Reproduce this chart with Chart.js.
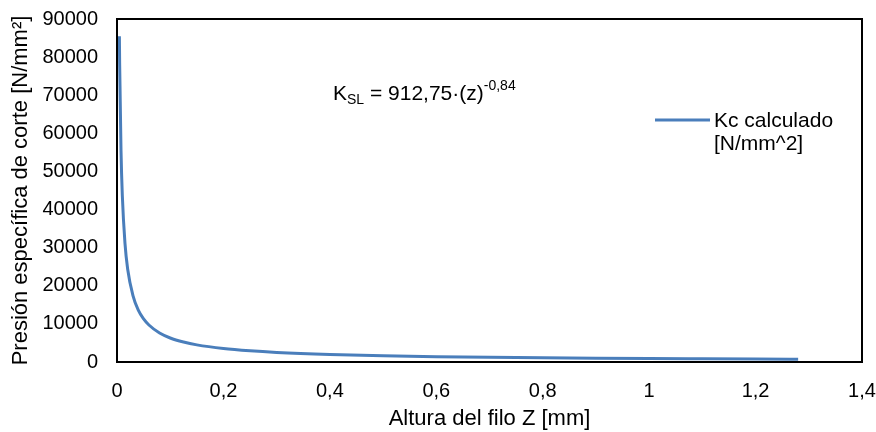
<!DOCTYPE html>
<html>
<head>
<meta charset="utf-8">
<script src="https://cdn.jsdelivr.net/npm/chart.js@4"></script>
<style>
  html, body { margin: 0; padding: 0; background: #fff; }
  #wrap { width: 876px; height: 432px; position: relative; }
</style>
</head>
<body>
<div id="wrap"><canvas id="myChart"></canvas></div>
<script>
// values
const alturaZ = [0.0045, 0.005, 0.0075, 0.01, 0.015, 0.02, 0.03, 0.04, 0.05, 0.06, 0.08, 0.1,
  0.125, 0.15, 0.2, 0.25, 0.3, 0.4, 0.5, 0.6, 0.7, 0.8, 0.9, 1.0, 1.1, 1.2, 1.28];
const kcCalculado = [85500, 78100, 55600, 43700, 31100, 24400, 17400, 13600, 11300, 9700, 7600, 6300,
  5240, 4490, 3530, 2930, 2510, 1970, 1630, 1400, 1230, 1100, 996, 913, 843, 783, 742];
const xTicks = [0, 0.2, 0.4, 0.6, 0.8, 1, 1.2, 1.4];
const yTicks = [0, 10000, 20000, 30000, 40000, 50000, 60000, 70000, 80000, 90000];

const FONT = "'Liberation Sans', Arial, sans-serif";
const BLUE = "#4a7ebb";

const boxAndText = {
  id: "boxAndText",
  afterDraw(chart) {
    const { ctx, chartArea: a } = chart;
    ctx.save();
    // plot frame
    ctx.strokeStyle = "#000";
    ctx.lineWidth = 2;
    ctx.strokeRect(a.left, a.top, a.right - a.left, a.bottom - a.top);

    // legend
    ctx.strokeStyle = BLUE;
    ctx.lineWidth = 3;
    ctx.beginPath();
    ctx.moveTo(655, 120);
    ctx.lineTo(710, 120);
    ctx.stroke();
    ctx.fillStyle = "#000";
    ctx.font = "21px " + FONT;
    ctx.textBaseline = "middle";
    ctx.textAlign = "left";
    ctx.fillText("Kc calculado", 714, 121);
    ctx.fillText("[N/mm^2]", 714, 144);

    // equation
    let x = 333, y = 94;
    ctx.font = "21px " + FONT;
    ctx.fillText("K", x, y);
    x += ctx.measureText("K").width;
    ctx.font = "14px " + FONT;
    ctx.fillText("SL", x, y + 6);
    x += ctx.measureText("SL").width;
    ctx.font = "21px " + FONT;
    const main = " = 912,75\u00b7(z)";
    ctx.fillText(main, x, y);
    x += ctx.measureText(main).width;
    ctx.font = "14px " + FONT;
    ctx.fillText("-0,84", x, y - 8);
    ctx.restore();
  }
};

const ctx = document.querySelector("#myChart");
new Chart(ctx, {
  type: "line",
  data: {
    datasets: [{
      label: "Kc calculado [N/mm^2]",
      data: alturaZ.map((z, i) => ({ x: z, y: kcCalculado[i] })),
      borderColor: BLUE,
      borderWidth: 3,
      pointRadius: 0,
      fill: false,
      cubicInterpolationMode: "monotone"
    }]
  },
  options: {
    responsive: true,
    maintainAspectRatio: false,
    animation: false,
    layout: { padding: { top: 19, right: 14, left: 0, bottom: 0 } },
    plugins: { legend: { display: false }, tooltip: { enabled: false } },
    scales: {
      x: {
        type: "linear",
        min: 0, max: 1.4,
        afterBuildTicks: (s) => { s.ticks = xTicks.map(v => ({ value: v })); },
        grid: { display: false, drawTicks: false },
        border: { display: false },
        ticks: {
          color: "#000",
          padding: 17,
          font: { family: FONT, size: 20 },
          callback: (v) => String(Math.round(v * 10) / 10).replace(".", ",")
        },
        title: {
          display: true,
          text: "Altura del filo Z [mm]",
          color: "#000",
          font: { family: FONT, size: 22 },
          padding: { top: 7, bottom: 0 }
        },
        afterFit: (s) => {
          s.height = 70;
          s.paddingLeft = 0;
          s.paddingRight = 0;
        }
      },
      y: {
        min: 0, max: 90000,
        afterBuildTicks: (s) => { s.ticks = yTicks.map(v => ({ value: v })); },
        grid: { display: false, drawTicks: false },
        border: { display: false },
        ticks: {
          color: "#000",
          padding: 19,
          font: { family: FONT, size: 20 },
          callback: (v) => String(v)
        },
        title: {
          display: true,
          text: "Presión específica de corte [N/mm²]",
          color: "#000",
          font: { family: FONT, size: 22 },
          padding: { top: 8, bottom: 0 }
        },
        afterFit: (s) => {
          s.width = 117;
          s.paddingTop = 0;
          s.paddingBottom = 0;
        }
      }
    }
  },
  plugins: [boxAndText]
});
</script>
</body>
</html>
